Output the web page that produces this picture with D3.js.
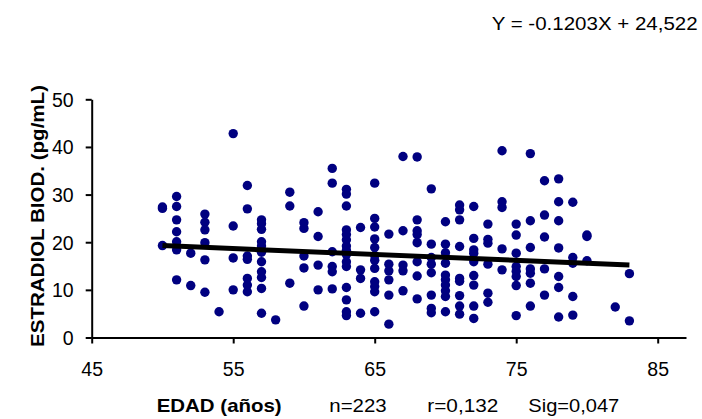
<!DOCTYPE html>
<html>
<head>
<meta charset="utf-8">
<script src="https://cdn.jsdelivr.net/npm/d3@7"></script>
<style>
  html, body { margin: 0; padding: 0; background: #fff; }
  svg { display: block; font-family: "Liberation Sans", Arial, sans-serif; }
</style>
</head>
<body>
<svg id="chart" width="702" height="419"></svg>
<script>
// ---- Data ----
const ageGroups = [50,51,52,53,54,55,56,57,58,59,60,61,62,63,64,65,66,67,68,69,70,71,72,73,74,75,76,77,78,79,80,82,83];
const valuesByAge = [
  [27.1, 27.4, 19.3],
  [29.6, 27.5, 24.7, 22.2, 20.1, 18.4, 12.1],
  [17.7, 10.9],
  [25.9, 24.2, 22.6, 19.9, 16.3, 9.5],
  [5.4],
  [42.8, 23.4, 16.7, 10.0],
  [31.9, 27.0, 17.1, 16.4, 12.4, 11.0, 9.6],
  [24.7, 23.9, 22.7, 20.1, 19.2, 17.9, 15.9, 13.8, 12.6, 10.3, 5.1],
  [3.7],
  [30.5, 27.6, 11.4],
  [24.1, 22.9, 17.1, 14.6, 6.6],
  [26.4, 21.2, 15.2, 10.0],
  [35.5, 32.4, 18.0, 14.9, 13.8, 10.2],
  [31.1, 30.1, 27.6, 22.6, 21.6, 20.5, 19.2, 18.3, 17.4, 15.9, 14.9, 10.5, 7.9, 5.4, 4.6],
  [23.1, 14.2, 12.4, 5.1],
  [32.4, 25.0, 23.2, 20.7, 18.9, 17.2, 16.2, 14.5, 11.7, 10.7, 9.6, 5.4],
  [21.7, 15.4, 14.0, 12.1, 8.9, 2.8],
  [38.0, 22.4, 15.2, 14.0, 9.8],
  [37.9, 24.7, 22.4, 21.6, 19.9, 15.9, 12.9, 8.1],
  [31.2, 19.6, 16.8, 15.4, 13.6, 8.9, 6.1, 5.2],
  [24.3, 19.6, 17.8, 15.6, 13.1, 12.1, 11.0, 9.8, 8.6, 5.4],
  [27.8, 26.8, 24.7, 19.1, 12.4, 11.8, 8.8, 6.6, 4.9],
  [27.5, 20.8, 18.4, 17.7, 15.9, 13.0, 11.0, 6.6, 4.0],
  [23.8, 20.6, 19.8, 15.4, 9.3, 7.4],
  [39.2, 28.5, 27.3, 18.6, 14.2],
  [23.8, 21.5, 17.7, 14.9, 13.9, 12.8, 10.9, 4.6],
  [38.6, 24.5, 18.9, 14.4, 13.5, 11.4, 6.6],
  [32.9, 25.7, 21.1, 14.4, 8.9],
  [33.3, 28.5, 24.5, 18.8, 12.8, 10.5, 4.3],
  [28.4, 16.8, 15.6, 8.6, 4.7],
  [21.5, 21.2, 16.1],
  [6.4],
  [13.4, 3.5]
];
const trendAges = [50, 83];
const trendValues = [19.3, 15.2];
const xTicks = [45, 55, 65, 75, 85];
const yTicks = [0, 10, 20, 30, 40, 50];
const equationLabel = "Y = -0.1203X + 24,522";
const yTitle = "ESTRADIOL BIOD. (pg/mL)";
const xTitle = "EDAD (años)";
const statLabels = ["n=223", "r=0,132", "Sig=0,047"];

// ---- Build points ----
const points = [];
ageGroups.forEach((a, i) => valuesByAge[i].forEach(v => points.push({age: a, val: v})));

const svg = d3.select("#chart");
const x = d3.scaleLinear().domain([45, 87]).range([91.7, 686]);
const y = d3.scaleLinear().domain([0, 50]).range([337.5, 99.3]);

// Axes
const xAxis = svg.append("g").attr("transform", `translate(0,${y(0)})`)
  .call(d3.axisBottom(x).tickValues(xTicks).tickSize(6).tickPadding(19).tickSizeOuter(0));
const yAxis = svg.append("g").attr("transform", `translate(${x(45)},0)`)
  .call(d3.axisLeft(y).tickValues(yTicks).tickSize(6).tickPadding(12).tickSizeOuter(0));

[xAxis, yAxis].forEach(g => {
  g.select(".domain").attr("stroke", "#000").attr("stroke-width", 2);
  g.selectAll(".tick line").attr("stroke", "#000").attr("stroke-width", 2);
  g.selectAll(".tick text").attr("fill", "#000").attr("font-size", 19.5)
    .attr("font-family", "'Liberation Sans', Arial, sans-serif");
});
xAxis.selectAll(".tick text").attr("dy", "0.71em");
yAxis.selectAll(".tick text").attr("dy", "0.35em");

// Points
svg.append("g").selectAll("circle").data(points).join("circle")
  .attr("cx", d => x(d.age)).attr("cy", d => y(d.val)).attr("r", 4.7)
  .attr("fill", "#000080");

// Trend line
svg.append("line")
  .attr("x1", x(trendAges[0])).attr("y1", y(trendValues[0]))
  .attr("x2", x(trendAges[1])).attr("y2", y(trendValues[1]))
  .attr("stroke", "#000").attr("stroke-width", 5);

// Equation
svg.append("text").attr("x", 491.7).attr("y", 30)
  .attr("font-size", 19).attr("textLength", 206).attr("lengthAdjust", "spacingAndGlyphs")
  .text(equationLabel);

// Y title
svg.append("text").attr("transform", "translate(44,216) rotate(-90)")
  .attr("text-anchor", "middle").attr("font-weight", "bold").attr("font-size", 17.5)
  .attr("textLength", 262).attr("lengthAdjust", "spacingAndGlyphs")
  .text(yTitle);

// X title and stats
svg.append("text").attr("x", 156.7).attr("y", 412).attr("font-weight", "bold")
  .attr("font-size", 18.5).attr("textLength", 125).attr("lengthAdjust", "spacingAndGlyphs")
  .text(xTitle);
const statX = [329.3, 427.3, 528.3];
const statW = [57.4, 71, 91];
statLabels.forEach((s, i) => {
  svg.append("text").attr("x", statX[i]).attr("y", 412).attr("font-size", 18.5)
    .attr("textLength", statW[i]).attr("lengthAdjust", "spacingAndGlyphs").text(s);
});
</script>
</body>
</html>
